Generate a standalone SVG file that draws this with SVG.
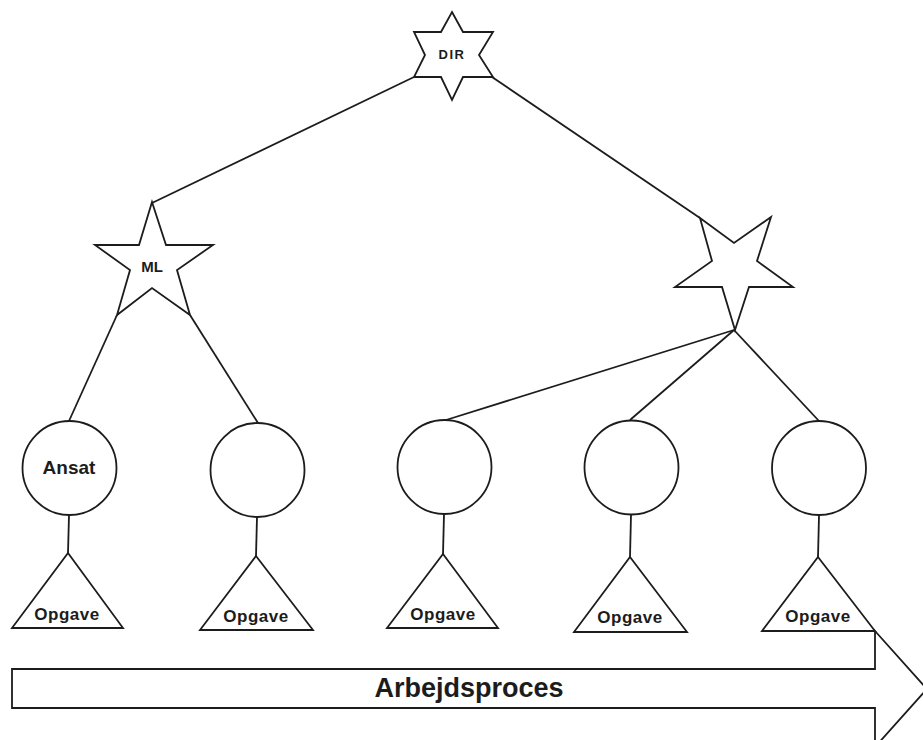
<svg xmlns="http://www.w3.org/2000/svg" width="923" height="740" viewBox="0 0 923 740">
  <style>
    .shape { fill: #ffffff; stroke: #1c1c1c; stroke-width: 1.8; stroke-linejoin: miter; }
    .link { stroke: #1c1c1c; stroke-width: 1.8; fill: none; }
    .lbl { font-family: "Liberation Sans", Arial, Helvetica, sans-serif; font-weight: bold; fill: #1c1c1c; text-anchor: middle; }
    .task { font-size: 17px; letter-spacing: 0.5px; }
  </style>
  <rect width="923" height="740" fill="#ffffff"/>

  <!-- connectors -->
  <g id="connectors">
    <line class="link" x1="414" y1="77" x2="152" y2="203"/>
    <line class="link" x1="492" y1="77" x2="700" y2="218"/>
    <line class="link" x1="117" y1="315" x2="69" y2="421"/>
    <line class="link" x1="190" y1="315" x2="258" y2="423"/>
    <line class="link" x1="734" y1="330" x2="446" y2="420"/>
    <line class="link" x1="734" y1="330" x2="630" y2="420"/>
    <line class="link" x1="734" y1="330" x2="819" y2="421"/>
    <line class="link" x1="69" y1="515" x2="68" y2="553"/>
    <line class="link" x1="257" y1="517" x2="256" y2="556"/>
    <line class="link" x1="444" y1="514" x2="443" y2="554"/>
    <line class="link" x1="631" y1="515" x2="630" y2="557"/>
    <line class="link" x1="819" y1="516" x2="818" y2="557"/>
  </g>

  <!-- director: six-pointed star -->
  <g id="dir">
    <polygon class="shape" points="452,12 463,32 493,32 479,55 493,77 463,77 452,100 441,77 414,77 425,55 414,32 441,32"/>
    <text class="lbl" x="452" y="59" font-size="13" letter-spacing="1.5">DIR</text>
  </g>

  <!-- middle manager: five-pointed star -->
  <g id="ml">
    <polygon class="shape" points="152,202 166,245 213,245 177,270 190,315 152,288 117,315 130,270 95,245 139,245"/>
    <text class="lbl" x="152" y="272" font-size="15">ML</text>
  </g>

  <!-- unlabelled manager: inverted five-pointed star -->
  <g id="manager2">
    <polygon class="shape" points="700,218 734,243 771,217 757,261 793,287 749,287 735,330 722,287 675,287 712,261"/>
  </g>

  <!-- employees -->
  <g id="emp1">
    <circle class="shape" cx="69.5" cy="468" r="47"/>
    <text class="lbl" x="69" y="474" font-size="19">Ansat</text>
  </g>
  <g id="emp2">
    <circle class="shape" cx="257.5" cy="470" r="47"/>
  </g>
  <g id="emp3">
    <circle class="shape" cx="444.5" cy="467" r="47"/>
  </g>
  <g id="emp4">
    <circle class="shape" cx="631.5" cy="467.5" r="47"/>
  </g>
  <g id="emp5">
    <circle class="shape" cx="819" cy="468" r="47"/>
  </g>

  <!-- work process arrow -->
  <g id="process">
    <polygon class="shape" points="12,669 875,669 875,631 927,689 875,747 875,708 12,708"/>
    <text class="lbl" x="469" y="697" font-size="27">Arbejdsproces</text>
  </g>

  <!-- tasks -->
  <g id="task1">
    <polygon class="shape" points="68,553 123,628 12,628"/>
    <text class="lbl task" x="67" y="620">Opgave</text>
  </g>
  <g id="task2">
    <polygon class="shape" points="256,556 313,630 200,630"/>
    <text class="lbl task" x="256" y="622">Opgave</text>
  </g>
  <g id="task3">
    <polygon class="shape" points="443,554 498,628 387,628"/>
    <text class="lbl task" x="443" y="620">Opgave</text>
  </g>
  <g id="task4">
    <polygon class="shape" points="630,557 687,632 574,632"/>
    <text class="lbl task" x="630" y="623">Opgave</text>
  </g>
  <g id="task5">
    <polygon class="shape" points="818,557 875,631 762,631"/>
    <text class="lbl task" x="818" y="622">Opgave</text>
  </g>
</svg>
